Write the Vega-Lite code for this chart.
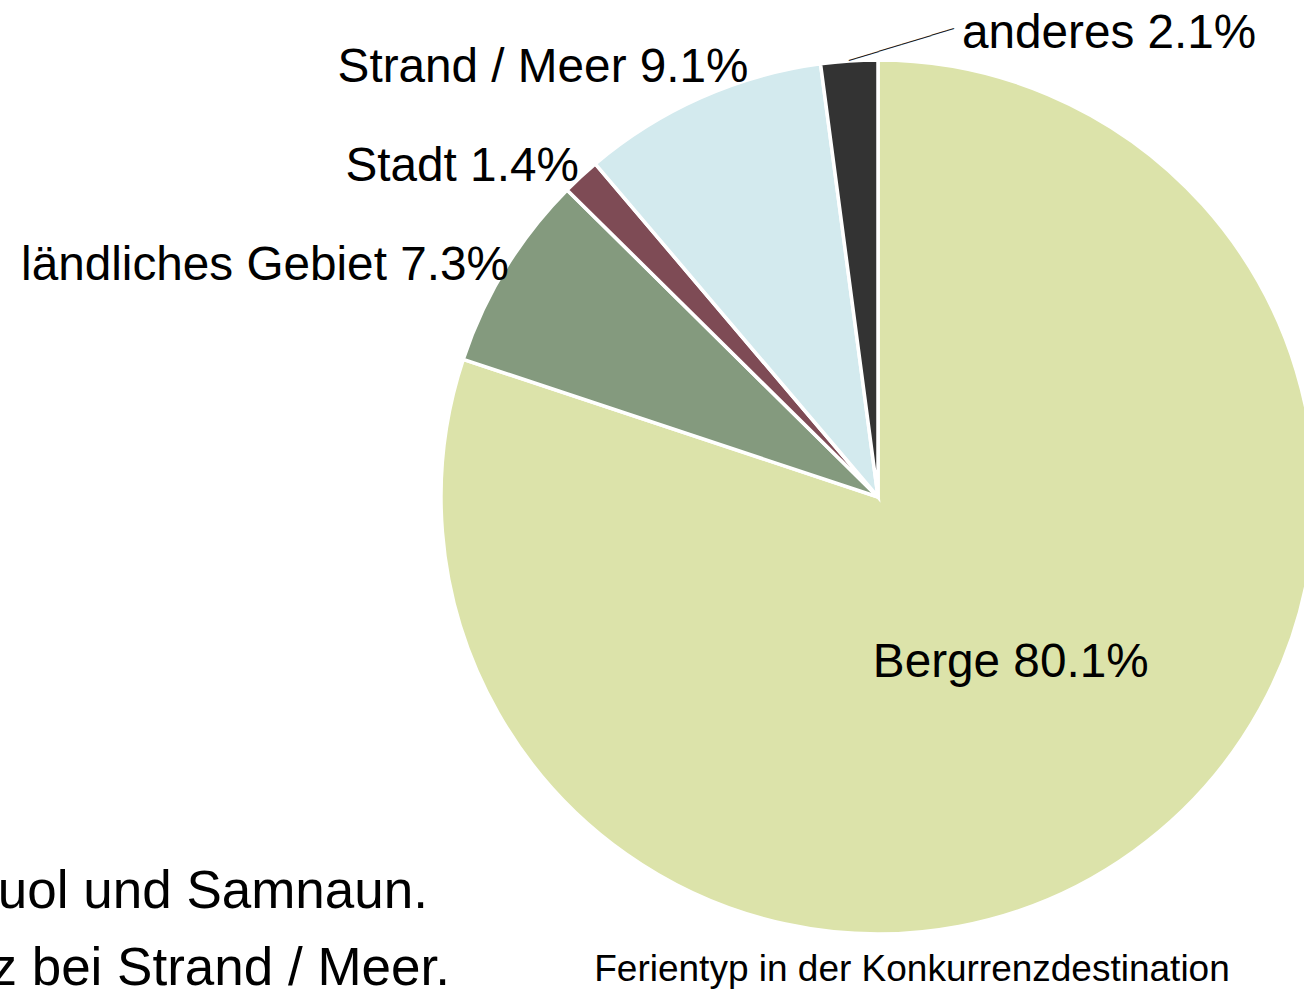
{
  "$schema": "https://vega.github.io/schema/vega-lite/v6.json",
  "autosize": {"type": "none"},
  "width": 870,
  "height": 870,
  "padding": {"left": 443, "top": 62, "right": 0, "bottom": 58},
  "background": "white",
  "config": {"font": "Liberation Sans", "view": {"stroke": null}},
  "title": {
    "text": "Ferientyp in der Konkurrenzdestination",
    "orient": "bottom",
    "anchor": "middle",
    "fontSize": 37,
    "fontWeight": "normal",
    "color": "black",
    "font": "Liberation Sans",
    "dx": 34,
    "offset": -44
  },
  "data": {
    "values": [
      {"cat": "Berge", "value": 80.1, "rank": 1, "label": "Berge 80.1%"},
      {"cat": "ländliches Gebiet", "value": 7.3, "rank": 2, "label": "ländliches Gebiet 7.3%"},
      {"cat": "Stadt", "value": 1.4, "rank": 3, "label": "Stadt 1.4%"},
      {"cat": "Strand / Meer", "value": 9.1, "rank": 4, "label": "Strand / Meer 9.1%"},
      {"cat": "anderes", "value": 2.1, "rank": 5, "label": "anderes 2.1%"}
    ]
  },
  "layer": [
    {
      "mark": {"type": "arc", "outerRadius": 437, "stroke": "white", "strokeWidth": 3.5},
      "encoding": {
        "theta": {"field": "value", "type": "quantitative", "stack": true},
        "order": {"field": "rank", "type": "quantitative"},
        "color": {
          "field": "cat",
          "type": "nominal",
          "scale": {
            "domain": ["Berge", "ländliches Gebiet", "Stadt", "Strand / Meer", "anderes"],
            "range": ["#DCE3AA", "#849A7E", "#7E4B55", "#D3EAEE", "#333333"]
          },
          "legend": null
        }
      }
    },
    {
      "mark": {"type": "text", "fontSize": 47.7, "align": "center", "baseline": "alphabetic", "color": "black", "dx": 11, "dy": 11},
      "encoding": {
        "theta": {"field": "value", "type": "quantitative", "stack": true},
        "order": {"field": "rank", "type": "quantitative"},
        "detail": {"field": "cat", "type": "nominal"},
        "radius": {"value": 208},
        "text": {"condition": {"test": "datum.cat === 'Berge'", "field": "label", "type": "nominal"}, "value": ""}
      }
    },
    {
      "mark": {"type": "text", "fontSize": 47.7, "align": "right", "baseline": "alphabetic", "color": "black", "dx": 6, "dy": 13},
      "encoding": {
        "theta": {"field": "value", "type": "quantitative", "stack": true},
        "order": {"field": "rank", "type": "quantitative"},
        "detail": {"field": "cat", "type": "nominal"},
        "radius": {"value": 440},
        "text": {"condition": {"test": "datum.cat === 'ländliches Gebiet'", "field": "label", "type": "nominal"}, "value": ""}
      }
    },
    {
      "mark": {"type": "text", "fontSize": 47.7, "align": "right", "baseline": "alphabetic", "color": "black", "dx": 0, "dy": 7},
      "encoding": {
        "theta": {"field": "value", "type": "quantitative", "stack": true},
        "order": {"field": "rank", "type": "quantitative"},
        "detail": {"field": "cat", "type": "nominal"},
        "radius": {"value": 440},
        "text": {"condition": {"test": "datum.cat === 'Stadt'", "field": "label", "type": "nominal"}, "value": ""}
      }
    },
    {
      "mark": {"type": "text", "fontSize": 47.7, "align": "right", "baseline": "alphabetic", "color": "black", "dx": 49, "dy": -13},
      "encoding": {
        "theta": {"field": "value", "type": "quantitative", "stack": true},
        "order": {"field": "rank", "type": "quantitative"},
        "detail": {"field": "cat", "type": "nominal"},
        "radius": {"value": 440},
        "text": {"condition": {"test": "datum.cat === 'Strand / Meer'", "field": "label", "type": "nominal"}, "value": ""}
      }
    },
    {
      "mark": {"type": "text", "fontSize": 47.7, "align": "left", "baseline": "alphabetic", "color": "black", "dx": 113, "dy": -10},
      "encoding": {
        "theta": {"field": "value", "type": "quantitative", "stack": true},
        "order": {"field": "rank", "type": "quantitative"},
        "detail": {"field": "cat", "type": "nominal"},
        "radius": {"value": 440},
        "text": {"condition": {"test": "datum.cat === 'anderes'", "field": "label", "type": "nominal"}, "value": ""}
      }
    },
    {
      "mark": {"type": "text", "font": "DejaVu Sans Mono", "fontSize": 13, "align": "left", "baseline": "middle", "color": "#222222", "angle": -17},
      "encoding": {
        "theta": {"field": "value", "type": "quantitative", "stack": true},
        "order": {"field": "rank", "type": "quantitative"},
        "detail": {"field": "cat", "type": "nominal"},
        "radius": {"value": 437},
        "text": {"condition": {"test": "datum.cat === 'anderes'", "value": "──────────────"}, "value": ""}
      }
    },
    {
      "data": {"values": [{"t": "uol und Samnaun."}]},
      "mark": {"type": "text", "fontSize": 53, "align": "right", "baseline": "alphabetic", "color": "black"},
      "encoding": {
        "x": {"value": -15},
        "y": {"value": 846},
        "text": {"field": "t", "type": "nominal"}
      }
    },
    {
      "data": {"values": [{"t": "z bei Strand / Meer."}]},
      "mark": {"type": "text", "fontSize": 53, "align": "right", "baseline": "alphabetic", "color": "black"},
      "encoding": {
        "x": {"value": 7},
        "y": {"value": 923},
        "text": {"field": "t", "type": "nominal"}
      }
    }
  ]
}
